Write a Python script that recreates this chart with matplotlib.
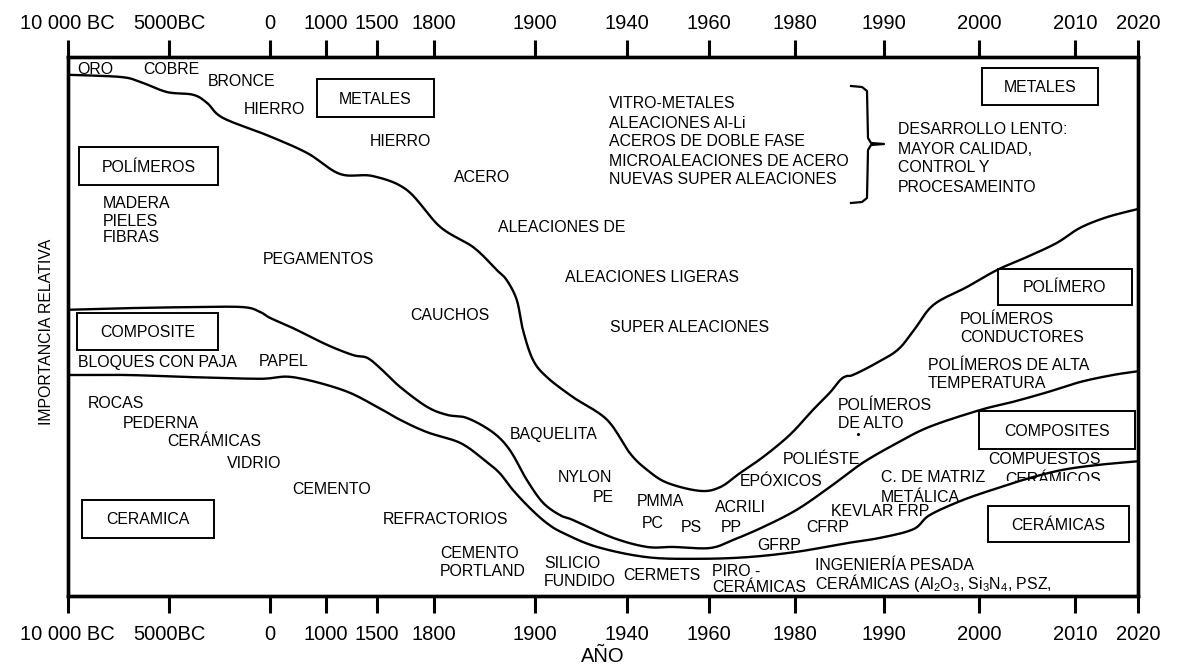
import numpy as np
import matplotlib
matplotlib.use("Agg")
import matplotlib.pyplot as plt
from matplotlib.patches import Rectangle

plt.rcParams['font.family'] = ['Liberation Sans', 'DejaVu Sans']
plt.rcParams['mathtext.fontset'] = 'custom'
plt.rcParams['mathtext.rm'] = 'Liberation Sans'
plt.rcParams['mathtext.default'] = 'rm'

# ---------------- data ----------------
tick_years = [-10000, -5000, 0, 1000, 1500, 1800, 1900, 1940, 1960, 1980, 1990, 2000, 2010, 2020]
tick_labels = ['10 000 BC', '5000BC', '0', '1000', '1500', '1800', '1900',
               '1940', '1960', '1980', '1990', '2000', '2010', '2020']

# boundary metals / polymers
metals_year = [-10000, -7400, -6430, -5100, -3810, -3120, -2330, -150, 661, 1137, 1461, 1658,
               1806, 1839, 1862, 1872, 1882, 1888, 1898, 1905.2, 1916.5, 1931.3, 1940.7, 1944.9,
               1949.8, 1957.8, 1962.6, 1967.2, 1972.6, 1978.8, 1982.0, 1983.9, 1985.1, 1985.8,
               1986.5, 1988.8, 1991.4, 1993.1, 1995.2, 1998.7, 2001.9, 2005.0, 2008.1, 2010.8,
               2015.1, 2020]
metals_val = [96.7, 96.3, 95.4, 93.5, 93.0, 91.5, 88.7, 85.5, 82.2, 78.3, 77.9, 75.3,
              68.5, 64.7, 60.5, 58.6, 54.9, 49.4, 43.8, 40.6, 36.9, 32.7, 26.5, 23.4,
              21.0, 19.5, 20.2, 22.8, 25.8, 29.9, 34.5, 37.7, 40.1, 40.8,
              41.0, 42.9, 45.6, 49.2, 54.0, 57.3, 60.5, 62.9, 65.5, 68.3,
              70.3, 71.8]

# boundary polymers / composites
poly_year = [-10000, -7070, -3812, -1337, -495, 0, 411, 1010, 1265, 1402, 1516, 1621, 1763,
             1813, 1833, 1858, 1875, 1892, 1903.5, 1910.9, 1916.5, 1933.9, 1944.9, 1951.2,
             1960.2, 1965.6, 1972.6, 1980.2, 1983.9, 1987.6, 1991.4, 1994.8, 2000.1, 2003.5,
             2007.1, 2010.8, 2016.0, 2020]
poly_val = [53.1, 53.4, 53.6, 53.6, 52.7, 51.6, 49.7, 46.6, 44.7, 44.2, 42.3, 38.8, 35.1,
            33.6, 33.0, 30.4, 27.1, 21.5, 17.3, 15.0, 14.1, 10.8, 9.1, 9.1,
            8.9, 10.4, 12.8, 16.0, 20.2, 24.7, 28.4, 31.4, 34.5, 36.0,
            37.8, 39.7, 41.0, 41.7]

# boundary composites / ceramics
comp_year = [-10000, -7070, -3812, -495, 411, 1167, 1500, 1621, 1763, 1826, 1850, 1865, 1878,
             1895, 1905.2, 1912.2, 1927.0, 1944.9, 1957.1, 1968.8, 1980.2, 1985.8, 1989.6,
             1993.1, 1994.8, 1998.3, 2001.9, 2005.3, 2008.7, 2013.5, 2020]
comp_val = [41.0, 41.0, 40.6, 40.3, 40.6, 38.2, 35.1, 32.7, 30.4, 28.4, 25.2, 22.8, 19.7,
            16.3, 13.5, 11.7, 9.1, 7.2, 6.9, 7.2, 8.2, 9.8, 10.8,
            12.4, 15.0, 17.8, 20.0, 21.9, 23.4, 24.3, 25.0]

# ---------------- layout ----------------
W, H = 1180, 666
tick_px = [67.5, 169, 270, 326, 377, 434, 535, 627, 709, 795, 884, 979, 1075, 1138]
AX_L, AX_R, AX_T, AX_B = 67.5, 1138, 57, 596


def fwd(y):
    return np.interp(y, tick_years, tick_px)


def inv(p):
    return np.interp(p, tick_px, tick_years)


def smooth_curve(years, vals, n=12):
    """Catmull-Rom drawing through the read points (in axis-position space)."""
    P = np.column_stack([fwd(np.asarray(years, float)), np.asarray(vals, float)])
    P = np.vstack([P[0], P, P[-1]])
    out = []
    t = np.linspace(0, 1, n, endpoint=False)[:, None]
    for i in range(1, len(P) - 2):
        p0, p1, p2, p3 = P[i - 1], P[i], P[i + 1], P[i + 2]
        seg = 0.5 * (2 * p1 + (-p0 + p2) * t + (2 * p0 - 5 * p1 + 4 * p2 - p3) * t ** 2
                     + (-p0 + 3 * p1 - 3 * p2 + p3) * t ** 3)
        out.append(seg)
    out.append(P[-2][None, :])
    out = np.vstack(out)
    xs = np.clip(out[:, 0], tick_px[0], tick_px[-1])
    return inv(xs), out[:, 1]


fig = plt.figure(figsize=(W / 100, H / 100), dpi=100)

# overlay in pixel coordinates for annotations
ov = fig.add_axes([0, 0, 1, 1], zorder=0)
ov.set_xlim(0, W)
ov.set_ylim(H, 0)
ov.axis('off')

ax = fig.add_axes([AX_L / W, (H - AX_B) / H, (AX_R - AX_L) / W, (AX_B - AX_T) / H], zorder=1)
ax.patch.set_alpha(0)
ax.set_xscale('function', functions=(fwd, inv))
ax.set_xlim(-10000, 2020)
ax.set_ylim(0, 100)

for xs, ys in [(metals_year, metals_val), (poly_year, poly_val), (comp_year, comp_val)]:
    sx, sy = smooth_curve(xs, ys)
    ax.plot(sx, sy, color='black', lw=1.7, solid_joinstyle='round', solid_capstyle='round')

for s in ax.spines.values():
    s.set_linewidth(2.4)
ax.set_xticks(tick_years)
ax.set_xticklabels(tick_labels)
ax.set_yticks([])
ax.tick_params(axis='x', direction='out', length=12, width=2.2, top=False, labeltop=False,
               bottom=True, labelbottom=True, labelsize=14.5, pad=9)
ax.set_xlabel('AÑO', fontsize=14.5, labelpad=2)
ax.set_ylabel('IMPORTANCIA RELATIVA', fontsize=11.4, va='center')
ax.yaxis.set_label_coords((47 - AX_L) / (AX_R - AX_L), 0.49)

# top axis with the same scale
axt = ax.twiny()
axt.set_xscale('function', functions=(fwd, inv))
axt.set_xlim(-10000, 2020)
axt.set_xticks(tick_years)
axt.set_xticklabels(tick_labels)
axt.tick_params(axis='x', direction='out', length=12, width=2.2, labelsize=14.5, pad=5)
for s in axt.spines.values():
    s.set_linewidth(2.4)

FS = 11.4
labels = [
    ('ORO', 77, 69), ('COBRE', 143, 69), ('BRONCE', 208, 82), ('HIERRO', 244, 109),
    ('HIERRO', 370, 141), ('ACERO', 454, 177),
    ('MADERA', 103, 203), ('PIELES', 103, 221), ('FIBRAS', 103, 238),
    ('PEGAMENTOS', 263, 260),
    ('VITRO-METALES', 609, 104), ('ALEACIONES Al-Li', 609, 123), ('ACEROS DE DOBLE FASE', 609, 142),
    ('MICROALEACIONES DE ACERO', 609, 161), ('NUEVAS SUPER ALEACIONES', 609, 180),
    ('DESARROLLO LENTO:', 898, 130), ('MAYOR CALIDAD,', 898, 150), ('CONTROL Y', 898, 168),
    ('PROCESAMEINTO', 898, 188),
    ('ALEACIONES DE', 498, 227), ('ALEACIONES LIGERAS', 565, 277), ('SUPER ALEACIONES', 610, 328),
    ('CAUCHOS', 410, 315), ('BLOQUES CON PAJA', 78, 362), ('PAPEL', 259, 362),
    ('ROCAS', 88, 404), ('PEDERNA', 123, 424), ('CERÁMICAS', 167, 442), ('VIDRIO', 227, 464),
    ('CEMENTO', 292, 489), ('REFRACTORIOS', 383, 520), ('CEMENTO', 440, 553), ('PORTLAND', 440, 572),
    ('SILICIO', 544, 563), ('FUNDIDO', 544, 582), ('BAQUELITA', 510, 434),
    ('NYLON', 558, 478), ('PE', 593, 498), ('PMMA', 637, 501), ('PC', 642, 523), ('PS', 681, 528),
    ('ACRILI', 715, 508), ('PP', 721, 527), ('EPÓXICOS', 740, 481), ('POLIÉSTE', 783, 460),
    ('CERMETS', 623, 575), ('PIRO -', 712, 571), ('CERÁMICAS', 712, 588),
    ('GFRP', 757, 545), ('CFRP', 806, 528), ('KEVLAR FRP', 831, 512),
    ('POLÍMEROS', 838, 406), ('DE ALTO', 838, 424),
    ('C. DE MATRIZ', 881, 477), ('METÁLICA', 881, 497), ('COMPUESTOS', 988, 460),
    ('INGENIERÍA PESADA', 815, 565),
    (r'CERÁMICAS (Al$_2$O$_3$, Si$_3$N$_4$, PSZ,', 815, 583),
    ('POLÍMEROS', 960, 319), ('CONDUCTORES', 960, 337),
    ('POLÍMEROS DE ALTA', 928, 366), ('TEMPERATURA', 928, 384),
]
for t, x, y in labels:
    ov.text(x, y, t, fontsize=FS, ha='left', va='center')

# second line of "COMPUESTOS CERÁMICOS" is cut off in the original
clip = Rectangle((990, 440), 130, 40.5, transform=ov.transData, fill=False, lw=0, alpha=0)
ov.add_patch(clip)
tt = ov.text(1005, 479, 'CERÁMICOS', fontsize=FS, ha='left', va='center', clip_on=True)
tt.set_clip_path(clip)
ov.plot([858], [434], marker='.', ms=2.5, color='black')

boxes = [
    ('METALES', 317, 79, 434, 117), ('POLÍMEROS', 79, 147, 218, 185),
    ('METALES', 982, 68, 1098, 105), ('POLÍMERO', 998, 269, 1132, 305),
    ('COMPOSITE', 77, 313, 218, 350), ('COMPOSITES', 979, 411, 1135, 449),
    ('CERAMICA', 82, 500, 214, 538), ('CERÁMICAS', 988, 506, 1129, 542),
]
for t, x0, y0, x1, y1 in boxes:
    ov.add_patch(Rectangle((x0, y0), x1 - x0, y1 - y0, fill=False, lw=1.4, ec='black'))
    ov.text((x0 + x1) / 2, (y0 + y1) / 2 + 1, t, fontsize=FS, ha='center', va='center')

# brace
bx = [851, 862, 867, 868, 871, 884, 871, 868, 867, 862, 851]
by = [86, 87, 91, 138, 143, 144, 145, 150, 198, 202, 203]
ov.plot(bx, by, color='black', lw=1.6, solid_joinstyle='round')

fig.savefig('out.png', dpi=100)
